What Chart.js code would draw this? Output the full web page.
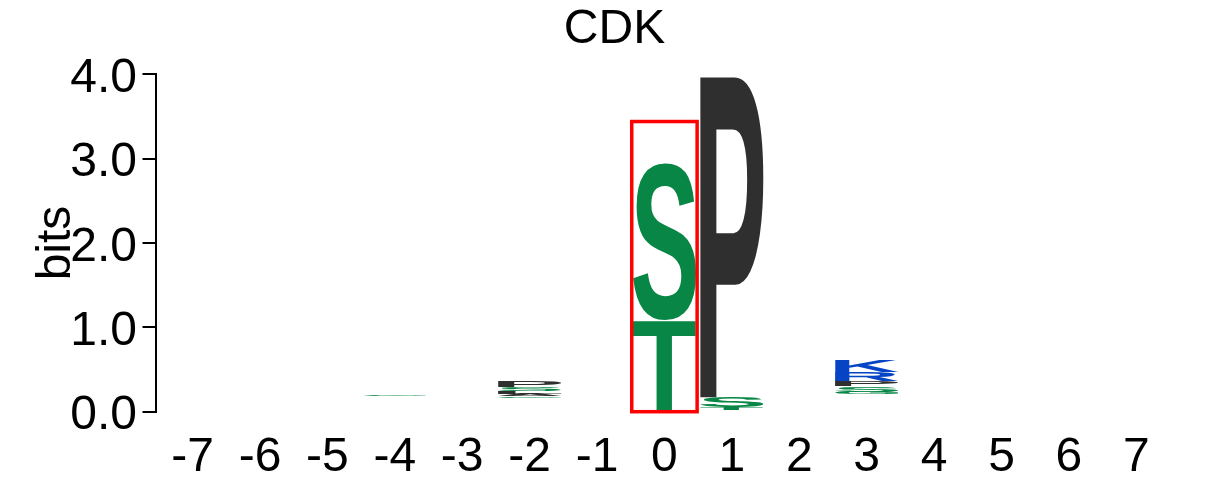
<!DOCTYPE html>
<html><head><meta charset="utf-8">
<script src="https://cdn.jsdelivr.net/npm/chart.js@4"></script>
<style>html,body{margin:0;padding:0;background:#fff}#wrap{width:1229px;height:496px}</style>
</head><body><div id="wrap"><canvas id="c" width="1229" height="496"></canvas></div>
<script>
// ---- data ----
const chartTitle = 'CDK';
const yAxisTitle = 'bits';
const positions = [-7,-6,-5,-4,-3,-2,-1,0,1,2,3,4,5,6,7];
const yTicks = [0,1,2,3,4];
const yTickLabels = ['0.0','1.0','2.0','3.0','4.0'];
// bits held by the many residues too small to be visible, at the bottom of each stack
const minorBits = [0,0,0,0.19,0,0.165,0,0,0.02,0,0.21,0,0,0,0];
// visible residues of each position, bottom to top
const stackLetters = [[],[],[],['G'],[],['G','A','L','S','P'],[],['T','S'],['T','S','P'],[],['G','S','P','R','K'],[],[],[],[]];
const stackBits = [[],[],[],[0.015],[],[0.02,0.028,0.028,0.05,0.08],[],[1.09,1.86],[0.03,0.12,3.83],[],[0.024,0.065,0.065,0.107,0.13],[],[],[],[]];
// highlighted phospho-acceptor position
const highlightPositions = [0];
const highlightBits = [3.44];

// ---- styles ----
const FONT = '"Liberation Sans", Arial, Helvetica, sans-serif';
const GREEN = '#088645', DARK = '#2f2f2f', BLUE = '#0644c6', PURPLE = '#8a2be2', RED = '#d4161c';
const residueColor = {G:GREEN,S:GREEN,T:GREEN,Y:GREEN,C:GREEN,N:PURPLE,Q:PURPLE,K:BLUE,R:BLUE,H:BLUE,D:RED,E:RED,
  A:DARK,V:DARK,L:DARK,I:DARK,P:DARK,W:DARK,F:DARK,M:DARK};
const LETTER_WIDTH = 0.94;   // fraction of a column
const BOX_HALF = 0.485;      // half width of highlight box, in columns

function drawGlyph(ctx, L, x0, y0, w, h, color){
  ctx.save();
  ctx.font = 'bold 200px ' + FONT;
  ctx.textAlign = 'left';
  ctx.textBaseline = 'alphabetic';
  const m = ctx.measureText(L);
  const gw = m.actualBoundingBoxLeft + m.actualBoundingBoxRight;
  const gh = m.actualBoundingBoxAscent + m.actualBoundingBoxDescent;
  ctx.translate(x0, y0);
  ctx.scale(w / gw, h / gh);
  ctx.fillStyle = color;
  ctx.fillText(L, m.actualBoundingBoxLeft, m.actualBoundingBoxAscent);
  ctx.restore();
}

const logoPlugin = {
  id: 'logo',
  afterDatasetsDraw(chart){
    const ctx = chart.ctx, x = chart.scales.x, y = chart.scales.y;
    const colW = Math.abs(x.getPixelForValue(1) - x.getPixelForValue(0));
    const w = colW * LETTER_WIDTH;
    positions.forEach((p, i) => {
      let base = minorBits[i];
      stackLetters[i].forEach((L, j) => {
        const h = stackBits[i][j];
        const yb = y.getPixelForValue(base), yt = y.getPixelForValue(base + h);
        base += h;
        if (yb - yt < 0.6) return;
        drawGlyph(ctx, L, x.getPixelForValue(p) - w / 2, yt, w, yb - yt, residueColor[L] || DARK);
      });
    });
    ctx.save();
    ctx.strokeStyle = '#ff0000';
    ctx.lineWidth = 3.5;
    highlightPositions.forEach((p, k) => {
      const l = x.getPixelForValue(p - BOX_HALF), r = x.getPixelForValue(p + BOX_HALF);
      const t = y.getPixelForValue(highlightBits[k]), b = y.getPixelForValue(0);
      ctx.strokeRect(l, t, r - l, b - t);
    });
    ctx.restore();
  }
};

const bigFont = {family: FONT, size: 48, weight: 'normal'};

new Chart(document.getElementById('c'), {
  type: 'scatter',
  data: {datasets: [{data: [], pointRadius: 0}]},
  options: {
    responsive: false, animation: false, devicePixelRatio: 1,
    layout: {padding: 0},
    plugins: {
      legend: {display: false}, tooltip: {enabled: false},
      title: {display: true, text: chartTitle, color: '#000', font: bigFont, padding: {top: 1, bottom: 15.7}}
    },
    scales: {
      x: {
        type: 'linear', min: -7.55, max: 7.5,
        grid: {display: false, drawTicks: false}, border: {display: false},
        afterBuildTicks: s => { s.ticks = positions.map(v => ({value: v})); },
        ticks: {autoSkip: false, maxRotation: 0, minRotation: 0, color: '#000', font: bigFont, padding: 17,
          callback: v => String(v)},
        afterFit: s => { s.height = 84.3; }
      },
      y: {
        type: 'linear', position: 'left', min: 0, max: 4,
        afterBuildTicks: s => { s.ticks = yTicks.map(v => ({value: v})); },
        ticks: {color: '#000', font: bigFont, padding: 5.5, labelOffset: 4.5,
          callback: v => yTickLabels[yTicks.indexOf(v)]},
        grid: {drawOnChartArea: false, drawTicks: true, tickLength: 13, color: '#000', lineWidth: 2},
        border: {display: true, color: '#000', width: 2},
        title: {display: true, text: yAxisTitle, color: '#000', font: bigFont, padding: {top: 28, bottom: 0}},
        afterFit: s => { s.width = 155.5; }
      },
      yR: {
        type: 'linear', position: 'right', display: true,
        grid: {display: false, drawTicks: false}, border: {display: false}, ticks: {display: false},
        afterFit: s => { s.width = 59; }
      }
    }
  },
  plugins: [logoPlugin]
});
</script>
</body></html>
